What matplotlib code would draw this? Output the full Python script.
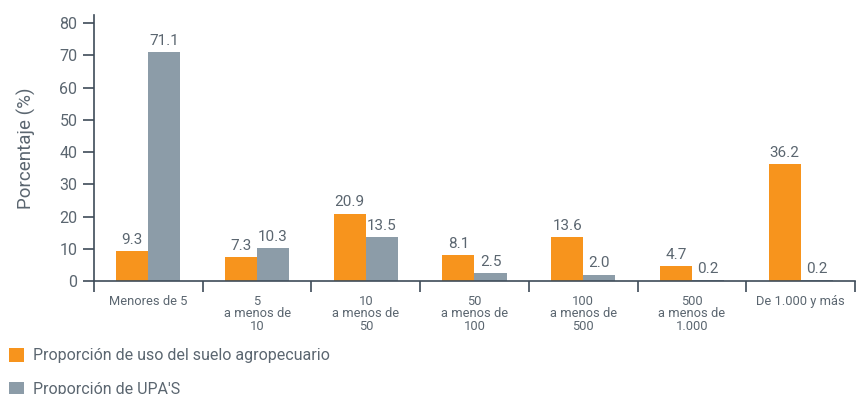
import numpy as np
import matplotlib
matplotlib.use("Agg")
import matplotlib.pyplot as plt

plt.rcParams['font.family'] = ['Roboto', 'DejaVu Sans']

categorias = ['Menores de 5', '5\na menos de\n10', '10\na menos de\n50', '50\na menos de\n100',
              '100\na menos de\n500', '500\na menos de\n1.000', 'De 1.000 y más']
uso_suelo = [9.3, 7.3, 20.9, 8.1, 13.6, 4.7, 36.2]
upas = [71.1, 10.3, 13.5, 2.5, 2.0, 0.2, 0.2]
serie_nombres = ['Proporción de uso del suelo agropecuario', "Proporción de UPA'S"]

naranja = '#F7941D'
gris = '#8C9CA8'
texto = '#5B6670'
eje = '#3E4C59'

fig = plt.figure(figsize=(8.56, 3.94), dpi=100)
ax = fig.add_axes([94/856, 113/394, 761/856, 266/394])

x = np.arange(len(categorias))
w = 0.295
b1 = ax.bar(x - w/2, uso_suelo, w, color=naranja, label=serie_nombres[0])
b2 = ax.bar(x + w/2, upas, w, color=gris, label=serie_nombres[1])

for bars, vals in ((b1, uso_suelo), (b2, upas)):
    for r, v in zip(bars, vals):
        ax.annotate('%.1f' % v, (r.get_x() + r.get_width()/2, v), xytext=(0, 3),
                    textcoords='offset points', ha='center', va='bottom',
                    fontsize=11, color=texto)

ax.set_xlim(-0.5, len(categorias) - 0.5)
ax.set_ylim(0, 82.5)
ax.set_yticks(range(0, 90, 10))
ax.set_xticks(x)
ax.set_xticklabels(categorias, fontsize=9.3, color=texto, linespacing=0.95, va='top')
ax.set_xticks(np.arange(-0.5, len(categorias)), minor=True)
ax.tick_params(axis='x', which='major', length=0, pad=10)
ax.tick_params(axis='x', which='minor', length=8, width=1.2, color=eje)
ax.tick_params(axis='y', length=8, width=1.2, color=eje, labelsize=11.5, labelcolor=texto, pad=4)
ax.set_ylabel('Porcentaje (%)', fontsize=13.5, color=texto, labelpad=17)

for s in ['top', 'right']:
    ax.spines[s].set_visible(False)
for s in ['left', 'bottom']:
    ax.spines[s].set_color(eje)
    ax.spines[s].set_linewidth(1.2)
ax.spines['left'].set_bounds(0, 82.5)

fig.legend(handles=[b1, b2], loc='upper left', bbox_to_anchor=(9/856, 1 - 348/394),
           frameon=False, fontsize=11.5, handlelength=0.95, handleheight=0.95,
           handletextpad=0.55, labelspacing=1.15, labelcolor=texto,
           borderaxespad=0, borderpad=0)

fig.savefig('out.png', dpi=100)
